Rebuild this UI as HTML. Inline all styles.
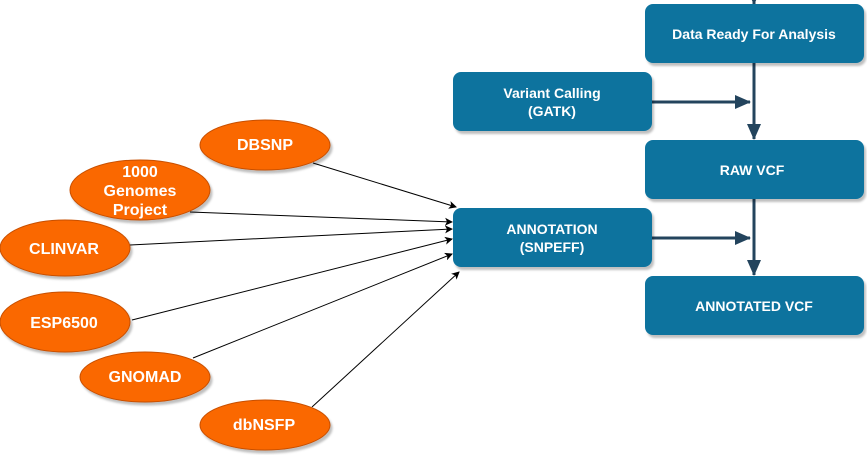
<!DOCTYPE html>
<html><head><style>
body{margin:0;background:#fff;width:867px;height:455px;overflow:hidden}
text{font-family:"Liberation Sans",Arial,sans-serif;font-weight:bold;fill:#fff}
</style></head><body>
<svg width="867" height="455" viewBox="0 0 867 455" xmlns="http://www.w3.org/2000/svg">
<defs>
<marker id="a" markerWidth="8" markerHeight="8" refX="7" refY="4" orient="auto" markerUnits="userSpaceOnUse"><path d="M0,0 L8,4 L0,8 L2,4z" fill="#000"/></marker>
<marker id="b" markerWidth="16" markerHeight="16" refX="15" refY="8" orient="auto" markerUnits="userSpaceOnUse"><path d="M0,1 L16,8 L0,15z" fill="#23445d"/></marker>
<filter id="s"><feDropShadow dx="2" dy="3" stdDeviation="1" flood-color="#000" flood-opacity="0.25"/></filter>
</defs>
<g stroke="#23445d" stroke-width="3" fill="none">
<line x1="754" y1="-5" x2="754" y2="4" marker-end="url(#b)"/>
<line x1="754" y1="63" x2="754" y2="139" marker-end="url(#b)"/>
<line x1="754" y1="199" x2="754" y2="275" marker-end="url(#b)"/>
<line x1="652" y1="102" x2="750" y2="102" marker-end="url(#b)"/>
<line x1="652" y1="238" x2="750" y2="238" marker-end="url(#b)"/>
</g>
<g fill="#10739e" filter="url(#s)">
<rect x="645" y="4" width="219" height="59" rx="8"/>
<rect x="453" y="72" width="199" height="59" rx="8"/>
<rect x="645" y="140" width="219" height="59" rx="8"/>
<rect x="453" y="208" width="199" height="59" rx="8"/>
<rect x="645" y="276" width="219" height="59" rx="8"/>
</g>
<g font-size="14" text-anchor="middle">
<text x="754" y="39">Data Ready For Analysis</text>
<text x="552" y="98">Variant Calling</text><text x="552" y="116">(GATK)</text>
<text x="752" y="175">RAW VCF</text>
<text x="552" y="234">ANNOTATION</text><text x="552" y="252">(SNPEFF)</text>
<text x="754" y="311">ANNOTATED VCF</text>
</g>
<g stroke="#000" stroke-width="1" fill="none">
<line x1="313" y1="163" x2="456" y2="207" marker-end="url(#a)"/>
<line x1="190" y1="212" x2="452" y2="222" marker-end="url(#a)"/>
<line x1="130" y1="245" x2="452" y2="229" marker-end="url(#a)"/>
<line x1="132" y1="320" x2="452" y2="239" marker-end="url(#a)"/>
<line x1="193" y1="358" x2="452" y2="254" marker-end="url(#a)"/>
<line x1="312" y1="407" x2="459" y2="272" marker-end="url(#a)"/>
</g>
<g fill="#fa6800" stroke="#c74f00" stroke-width="1" filter="url(#s)">
<ellipse cx="265" cy="145" rx="65" ry="25"/>
<ellipse cx="140" cy="190" rx="70" ry="30"/>
<ellipse cx="65" cy="248" rx="65" ry="28"/>
<ellipse cx="65" cy="322" rx="65" ry="30"/>
<ellipse cx="145" cy="377" rx="65" ry="25"/>
<ellipse cx="265" cy="425" rx="65" ry="25"/>
</g>
<g font-size="16" text-anchor="middle">
<text x="265" y="150">DBSNP</text>
<text x="140" y="177">1000</text><text x="140" y="196">Genomes</text><text x="140" y="215">Project</text>
<text x="64" y="254">CLINVAR</text>
<text x="64" y="328">ESP6500</text>
<text x="145" y="382">GNOMAD</text>
<text x="264" y="430">dbNSFP</text>
</g>
</svg>
</body></html>
